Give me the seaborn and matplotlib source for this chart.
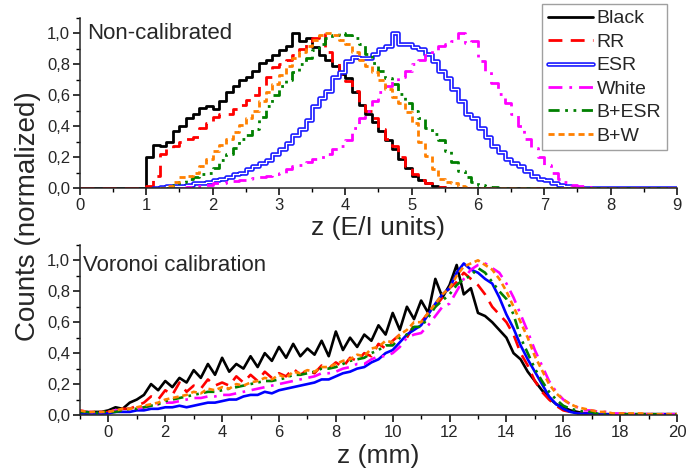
import numpy as np
import pandas as pd
import matplotlib
matplotlib.use("Agg")
import matplotlib.pyplot as plt
import matplotlib.patheffects as pe
from matplotlib.ticker import MultipleLocator, FuncFormatter
import seaborn as sns

# ---------------- data: top panel (histograms, bin width 0.1, E/I units) ----------------
series_names = ["Black", "RR", "ESR", "White", "B+ESR", "B+W"]
top_bin = 0.1
top_start = {"Black": 1.0, "RR": 1.0, "ESR": 1.2, "White": 1.6, "B+ESR": 1.4, "B+W": 1.3}
# series whose zero baseline is drawn from z = 0
from_zero = ["Black", "RR"]

top_black = [0.20, 0.28, 0.27, 0.30, 0.37, 0.40, 0.45, 0.48, 0.52, 0.53,
             0.51, 0.56, 0.62, 0.66, 0.70, 0.72, 0.76, 0.81, 0.83, 0.86,
             0.89, 0.92, 1.00, 0.95, 0.97, 0.91, 0.86, 0.83, 0.79, 0.74,
             0.71, 0.62, 0.54, 0.48, 0.43, 0.37, 0.31, 0.25, 0.19, 0.13,
             0.08, 0.05, 0.03, 0.01, 0.005]
top_rr = [0.01, 0.08, 0.22, 0.25, 0.27, 0.30, 0.32, 0.33, 0.39, 0.42,
          0.46, 0.48, 0.48, 0.51, 0.54, 0.57, 0.60, 0.66, 0.72, 0.78,
          0.80, 0.83, 0.86, 0.90, 0.93, 0.97, 1.00, 0.88, 0.81, 0.74,
          0.69, 0.63, 0.55, 0.50, 0.45, 0.38, 0.32, 0.27, 0.20, 0.14,
          0.09, 0.05, 0.03, 0.015, 0.005]
top_esr = [0.005, 0.01, 0.01, 0.015, 0.02, 0.03, 0.035, 0.04, 0.05, 0.06,
           0.07, 0.09, 0.10, 0.12, 0.14, 0.16, 0.18, 0.22, 0.25, 0.29,
           0.34, 0.38, 0.44, 0.53, 0.58, 0.63, 0.72, 0.75, 0.82, 0.85,
           0.84, 0.84, 0.87, 0.90, 0.92, 1.00, 0.93, 0.93, 0.91, 0.90,
           0.87, 0.82, 0.76, 0.71, 0.64, 0.56, 0.48, 0.45, 0.39, 0.33,
           0.27, 0.23, 0.19, 0.16, 0.14, 0.11, 0.08, 0.06, 0.05, 0.03,
           0.02, 0.01, 0.005]
top_white = [0.005, 0.01, 0.015, 0.02, 0.03, 0.035, 0.04, 0.045, 0.05, 0.06,
             0.065, 0.07, 0.08, 0.09, 0.10, 0.12, 0.14, 0.15, 0.17, 0.19,
             0.20, 0.22, 0.25, 0.27, 0.31, 0.39, 0.45, 0.50, 0.56, 0.62,
             0.66, 0.69, 0.72, 0.76, 0.80, 0.83, 0.86, 0.89, 0.92, 0.93,
             0.95, 1.00, 0.94, 0.95, 0.82, 0.76, 0.68, 0.61, 0.55, 0.48,
             0.40, 0.32, 0.26, 0.20, 0.15, 0.10, 0.06, 0.04, 0.02, 0.01,
             0.005]
top_besr = [0.02, 0.04, 0.06, 0.07, 0.09, 0.10, 0.13, 0.18, 0.22, 0.26,
            0.32, 0.34, 0.38, 0.46, 0.53, 0.60, 0.66, 0.70, 0.75, 0.80,
            0.84, 0.89, 0.93, 0.97, 0.99, 1.00, 0.99, 0.97, 0.93, 0.87,
            0.81, 0.76, 0.71, 0.67, 0.61, 0.55, 0.50, 0.45, 0.39, 0.35,
            0.31, 0.24, 0.17, 0.11, 0.07, 0.04, 0.02, 0.01, 0.005]
top_bw = [0.01, 0.04, 0.07, 0.08, 0.10, 0.14, 0.19, 0.24, 0.28, 0.32,
          0.36, 0.41, 0.45, 0.50, 0.56, 0.62, 0.67, 0.73, 0.79, 0.84,
          0.88, 0.92, 0.96, 0.99, 1.00, 0.99, 0.96, 0.93, 0.88, 0.83,
          0.79, 0.75, 0.70, 0.64, 0.59, 0.55, 0.49, 0.42, 0.30, 0.21,
          0.12, 0.06, 0.04, 0.03, 0.015, 0.005]

# ---------------- data: bottom panel (z in mm, step 0.25 from -1) ----------------
bot_start, bot_step = -1.0, 0.25
tail = [0.005] * 12
bot_black = [0.02, 0.01, 0.02, 0.02, 0.03, 0.05, 0.04, 0.08,
             0.10, 0.13, 0.20, 0.16, 0.22, 0.18, 0.24, 0.21,
             0.29, 0.24, 0.33, 0.26, 0.37, 0.28, 0.33, 0.30,
             0.38, 0.31, 0.40, 0.35, 0.44, 0.37, 0.46, 0.38,
             0.43, 0.39, 0.48, 0.38, 0.54, 0.42, 0.50, 0.44,
             0.52, 0.48, 0.58, 0.52, 0.66, 0.55, 0.70, 0.62,
             0.74, 0.66, 0.88, 0.76, 0.84, 0.97, 0.78, 0.82,
             0.66, 0.64, 0.60, 0.55, 0.50, 0.40, 0.36, 0.28,
             0.22, 0.16, 0.11, 0.07, 0.05, 0.03, 0.02, 0.01,
             0.01] + tail
bot_rr = [0.02, 0.01, 0.02, 0.01, 0.02, 0.03, 0.04, 0.04,
          0.06, 0.08, 0.12, 0.10, 0.16, 0.13, 0.21, 0.15,
          0.19, 0.17, 0.23, 0.19, 0.21, 0.19, 0.25, 0.21,
          0.26, 0.22, 0.28, 0.24, 0.27, 0.25, 0.30, 0.26,
          0.29, 0.27, 0.32, 0.30, 0.34, 0.31, 0.37, 0.35,
          0.40, 0.38, 0.46, 0.43, 0.48, 0.52, 0.50, 0.58,
          0.60, 0.66, 0.70, 0.76, 0.82, 0.86, 0.92, 0.88,
          0.84, 0.78, 0.70, 0.65, 0.60, 0.52, 0.40, 0.32,
          0.22, 0.15, 0.10, 0.06, 0.03, 0.02, 0.01, 0.01,
          0.01] + tail
bot_esr = [0.01, 0.01, 0.01, 0.01, 0.01, 0.02, 0.02, 0.02,
           0.03, 0.03, 0.04, 0.04, 0.05, 0.05, 0.06, 0.05,
           0.06, 0.07, 0.08, 0.08, 0.09, 0.10, 0.10, 0.12,
           0.13, 0.13, 0.15, 0.14, 0.16, 0.17, 0.18, 0.19,
           0.20, 0.21, 0.23, 0.23, 0.25, 0.27, 0.28, 0.30,
           0.31, 0.34, 0.36, 0.40, 0.42, 0.47, 0.52, 0.55,
           0.58, 0.65, 0.72, 0.78, 0.82, 0.92, 0.98, 0.94,
           0.92, 0.88, 0.85, 0.76, 0.65, 0.56, 0.45, 0.36,
           0.28, 0.20, 0.12, 0.07, 0.04, 0.02, 0.01, 0.01,
           0.01] + tail
bot_white = [0.03, 0.02, 0.02, 0.02, 0.02, 0.03, 0.03, 0.04,
             0.04, 0.05, 0.06, 0.07, 0.08, 0.08, 0.09, 0.10,
             0.11, 0.11, 0.12, 0.12, 0.13, 0.13, 0.14, 0.15,
             0.16, 0.17, 0.18, 0.19, 0.20, 0.21, 0.22, 0.23,
             0.24, 0.25, 0.27, 0.27, 0.28, 0.30, 0.31, 0.33,
             0.33, 0.36, 0.38, 0.38, 0.40, 0.44, 0.50, 0.52,
             0.53, 0.58, 0.64, 0.70, 0.72, 0.80, 0.88, 0.94,
             0.97, 0.98, 0.95, 0.92, 0.85, 0.76, 0.65, 0.54,
             0.42, 0.32, 0.22, 0.15, 0.10, 0.07, 0.05, 0.03,
             0.03] + [0.02, 0.02, 0.01, 0.01, 0.01, 0.005, 0.005, 0.005, 0.005, 0.005, 0.005, 0.005]
bot_besr = [0.02, 0.02, 0.01, 0.02, 0.02, 0.02, 0.03, 0.04,
            0.04, 0.05, 0.06, 0.07, 0.09, 0.10, 0.11, 0.12,
            0.13, 0.14, 0.15, 0.15, 0.16, 0.17, 0.18, 0.19,
            0.20, 0.21, 0.22, 0.22, 0.23, 0.24, 0.26, 0.26,
            0.27, 0.28, 0.30, 0.30, 0.31, 0.33, 0.35, 0.36,
            0.37, 0.40, 0.42, 0.45, 0.45, 0.50, 0.52, 0.57,
            0.57, 0.63, 0.70, 0.74, 0.78, 0.84, 0.88, 0.90,
            0.95, 0.92, 0.86, 0.80, 0.75, 0.65, 0.50, 0.40,
            0.30, 0.22, 0.15, 0.10, 0.06, 0.04, 0.03, 0.02,
            0.02] + tail
bot_bw = [0.03, 0.02, 0.02, 0.02, 0.02, 0.03, 0.04, 0.04,
          0.05, 0.06, 0.07, 0.08, 0.10, 0.11, 0.12, 0.13,
          0.15, 0.14, 0.17, 0.16, 0.18, 0.17, 0.20, 0.19,
          0.21, 0.22, 0.24, 0.23, 0.26, 0.24, 0.28, 0.27,
          0.29, 0.28, 0.31, 0.31, 0.33, 0.35, 0.36, 0.39,
          0.38, 0.43, 0.44, 0.48, 0.47, 0.52, 0.55, 0.60,
          0.60, 0.66, 0.72, 0.78, 0.82, 0.90, 0.96, 0.98,
          1.00, 0.97, 0.94, 0.88, 0.80, 0.70, 0.60, 0.50,
          0.38, 0.29, 0.20, 0.14, 0.10, 0.07, 0.05, 0.04,
          0.03] + [0.02, 0.02, 0.01, 0.01, 0.01, 0.01, 0.01, 0.005, 0.005, 0.005, 0.005, 0.005]

top_data = dict(zip(series_names, [top_black, top_rr, top_esr, top_white, top_besr, top_bw]))
bot_data = dict(zip(series_names, [bot_black, bot_rr, bot_esr, bot_white, bot_besr, bot_bw]))

colors = {"Black": "#000000", "RR": "#ff0000", "ESR": "#1a1aff", "White": "#ff00ff",
          "B+ESR": "#008000", "B+W": "#ff8000"}
dashes = {"Black": None, "RR": (5, 3), "ESR": None, "White": (5, 2.5, 1, 2.5),
          "B+ESR": (4, 2, 1, 2, 1, 2), "B+W": (2.2, 1.4)}

# ---------------- style ----------------
sns.set_theme(style="ticks")
plt.rcParams["font.family"] = ["Liberation Sans", "DejaVu Sans"]
plt.rcParams["axes.linewidth"] = 1.1
plt.rcParams["xtick.major.width"] = 1.1
plt.rcParams["ytick.major.width"] = 1.1
plt.rcParams["xtick.minor.width"] = 1.0
plt.rcParams["ytick.minor.width"] = 1.0

fig = plt.figure(figsize=(6.93, 4.70), dpi=100)
ax1 = fig.add_axes([0.1154, 0.600, 0.8615, 0.3617])
ax2 = fig.add_axes([0.1154, 0.117, 0.8615, 0.362])

comma = FuncFormatter(lambda v, p: f"{v:.1f}".replace(".", ","))

# top panel
n_top = 91
for name in series_names:
    vals = top_data[name]
    y = np.zeros(n_top)
    i0 = int(round(top_start[name] / top_bin))
    y[i0:i0 + len(vals)] = vals
    x = np.arange(n_top) * top_bin
    first = 0 if name in from_zero else i0 - 1
    df = pd.DataFrame({"z": x[first:], "c": y[first:]})
    kw = dict(drawstyle="steps-post", color=colors[name], lw=2.0, label=name)
    if name == "ESR":
        kw.update(color="white", lw=0.9,
                  path_effects=[pe.Stroke(linewidth=3.3, foreground=colors[name]), pe.Normal()])
    elif dashes[name] is not None:
        kw["dashes"] = dashes[name]
    sns.lineplot(data=df, x="z", y="c", ax=ax1, legend=False, **kw)

# bottom panel
for name in series_names:
    vals = bot_data[name]
    x = bot_start + bot_step * np.arange(len(vals))
    df = pd.DataFrame({"z": x, "c": vals})
    kw = dict(color=colors[name], lw=1.9)
    if name == "ESR":
        kw["color"] = "#0000ff"
    elif dashes[name] is not None:
        kw["dashes"] = dashes[name]
    sns.lineplot(data=df, x="z", y="c", ax=ax2, legend=False, **kw)

for ax in (ax1, ax2):
    sns.despine(ax=ax)
    ax.set_ylim(0, 1.1)
    ax.yaxis.set_major_locator(MultipleLocator(0.2))
    ax.yaxis.set_minor_locator(MultipleLocator(0.1))
    ax.yaxis.set_major_formatter(comma)
    ax.set_ylabel("")
    ax.tick_params(axis="both", which="major", length=5, labelsize=12, color="black", pad=2)
    ax.tick_params(axis="both", which="minor", length=3, color="black")
    ax.set_facecolor("white")

ax1.set_xlim(0, 9)
ax1.xaxis.set_major_locator(MultipleLocator(1))
ax1.xaxis.set_minor_locator(MultipleLocator(0.5))
ax1.set_xlabel("z (E/I units)", fontsize=19, labelpad=2)

ax2.set_xlim(-1, 20)
ax2.xaxis.set_major_locator(MultipleLocator(2))
ax2.xaxis.set_minor_locator(MultipleLocator(1))
ax2.set_xlabel("z (mm)", fontsize=19, labelpad=3)

ax1.text(0.012, 0.91, "Non-calibrated", transform=ax1.transAxes, fontsize=16, va="center", ha="left")
ax2.text(0.005, 0.88, "Voronoi calibration", transform=ax2.transAxes, fontsize=16, va="center", ha="left")

fig.text(0.04, 0.54, "Counts (normalized)", rotation=90, fontsize=20, va="center", ha="center")

handles, labels = ax1.get_legend_handles_labels()
leg = fig.legend(handles, labels, loc="upper right", bbox_to_anchor=(0.9625, 0.9915),
                 bbox_transform=fig.transFigure, borderaxespad=0, fontsize=14,
                 frameon=True, fancybox=False, framealpha=1, edgecolor="#a0a0a0",
                 handlelength=2.3, handletextpad=0.2, labelspacing=0.3, borderpad=0.3)
leg.get_frame().set_linewidth(1.0)

fig.savefig("out.png", dpi=100, facecolor="white")
